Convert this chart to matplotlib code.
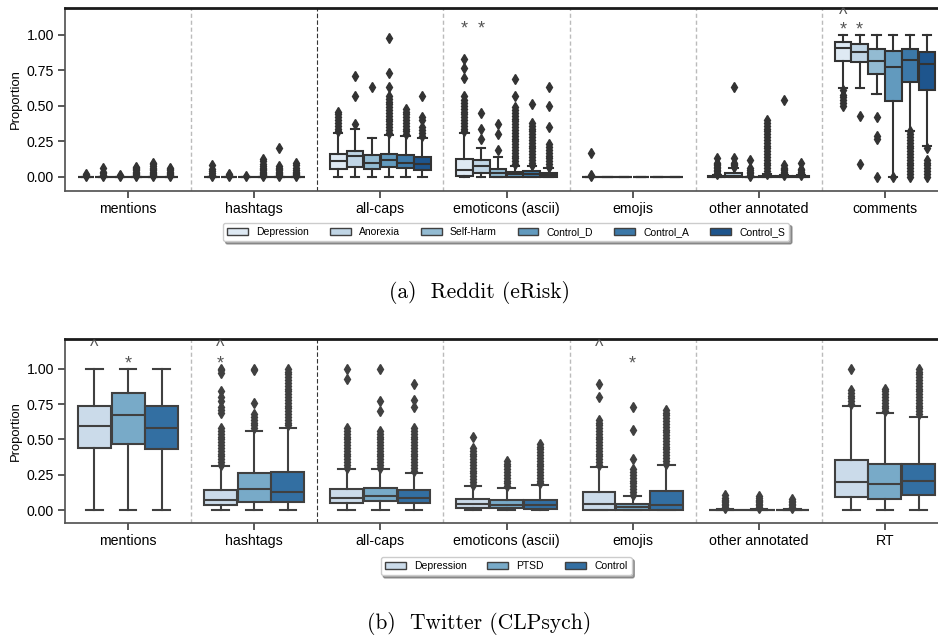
import colorsys
import matplotlib
matplotlib.use("Agg")
import matplotlib.pyplot as plt
from matplotlib.colors import to_rgb
from matplotlib.patches import Patch
import numpy as np

plt.rcParams['font.family'] = ['Liberation Sans', 'DejaVu Sans']

# --- Reddit (eRisk) ---------------------------------------------------------
r_features = ["mentions", "hashtags", "all-caps", "emoticons (ascii)", "emojis",
              "other annotated", "comments"]
r_groups = ["Depression", "Anorexia", "Self-Harm", "Control_D", "Control_A", "Control_S"]

# (whislo, q1, med, q3, whishi) por grupo
r_mentions = [(0, 0, 0, 0, 0)] * 6
r_mentions_out = [
    [0.005, 0.012, 0.02],
    [0.005, 0.015, 0.025, 0.035, 0.06],
    [0.004, 0.01],
    [0.005, 0.012, 0.02, 0.028, 0.036, 0.045, 0.055, 0.065, 0.072],
    [0.005, 0.012, 0.02, 0.028, 0.036, 0.045, 0.055, 0.065, 0.075, 0.09, 0.1],
    [0.005, 0.012, 0.02, 0.028, 0.036, 0.045, 0.055, 0.062],
]
r_hashtags = [(0, 0, 0, 0, 0)] * 6
r_hashtags_out = [
    [0.005, 0.015, 0.025, 0.04, 0.055, 0.085],
    [0.005, 0.012, 0.02],
    [0.004],
    [0.005, 0.012, 0.02, 0.028, 0.036, 0.045, 0.055, 0.065, 0.075, 0.09, 0.11, 0.125],
    [0.005, 0.012, 0.02, 0.028, 0.036, 0.045, 0.055, 0.065, 0.075, 0.2],
    [0.005, 0.012, 0.02, 0.028, 0.036, 0.045, 0.06, 0.08, 0.1],
]
r_allcaps = [(0.0, 0.058, 0.115, 0.162, 0.308), (0.0, 0.068, 0.146, 0.185, 0.336),
             (0.0, 0.054, 0.094, 0.153, 0.277), (0.0, 0.066, 0.117, 0.164, 0.296),
             (0.0, 0.061, 0.096, 0.153, 0.289), (0.0, 0.045, 0.087, 0.141, 0.275)]
r_allcaps_out = [
    [0.32, 0.34, 0.36, 0.38, 0.40, 0.42, 0.44, 0.46],
    [0.37, 0.57, 0.71],
    [0.63],
    [0.31, 0.33, 0.35, 0.37, 0.39, 0.41, 0.43, 0.45, 0.47, 0.49, 0.51, 0.53, 0.55, 0.57,
     0.63, 0.73, 0.98],
    [0.30, 0.32, 0.34, 0.36, 0.38, 0.40, 0.42, 0.44, 0.46, 0.48],
    [0.29, 0.31, 0.33, 0.35, 0.40, 0.42, 0.57],
]
r_emoticons = [(0.0, 0.007, 0.045, 0.129, 0.308), (0.0, 0.028, 0.075, 0.122, 0.2),
               (0.0, 0.0, 0.026, 0.058, 0.14), (0.0, 0.002, 0.017, 0.033, 0.078),
               (0.0, 0.0, 0.02, 0.04, 0.073), (0.0, 0.0, 0.015, 0.028, 0.06)]
r_emoticons_out = [
    [0.32, 0.34, 0.36, 0.38, 0.40, 0.42, 0.44, 0.46, 0.48, 0.50, 0.52, 0.54, 0.57,
     0.70, 0.77, 0.83],
    [0.27, 0.34, 0.45],
    [0.19, 0.30, 0.37],
    [0.09, 0.11, 0.13, 0.15, 0.17, 0.19, 0.21, 0.23, 0.25, 0.27, 0.29, 0.31, 0.33, 0.35,
     0.37, 0.39, 0.41, 0.43, 0.45, 0.47, 0.49, 0.57, 0.69],
    [0.08, 0.10, 0.12, 0.14, 0.16, 0.18, 0.20, 0.22, 0.24, 0.26, 0.28, 0.30, 0.32, 0.34,
     0.36, 0.38, 0.51],
    [0.07, 0.09, 0.11, 0.13, 0.15, 0.17, 0.19, 0.21, 0.23, 0.35, 0.50, 0.63],
]
r_emojis = [(0, 0, 0, 0, 0)] * 6
r_emojis_out = [[0.004, 0.01, 0.17], [], [], [], [], []]
r_other = [(0, 0, 0, 0.006, 0.012), (0, 0, 0.004, 0.03, 0.06), (0, 0, 0, 0, 0),
           (0, 0, 0, 0.008, 0.018), (0, 0, 0, 0.005, 0.01), (0, 0, 0, 0.006, 0.012)]
r_other_out = [
    [0.02, 0.03, 0.04, 0.05, 0.06, 0.07, 0.08, 0.09, 0.10, 0.135],
    [0.07, 0.08, 0.09, 0.10, 0.13, 0.63],
    [0.005, 0.015, 0.025, 0.035, 0.045, 0.06, 0.12],
    [0.02, 0.04, 0.06, 0.08, 0.10, 0.12, 0.14, 0.16, 0.18, 0.20, 0.22, 0.24, 0.26, 0.28,
     0.30, 0.32, 0.34, 0.36, 0.38, 0.40],
    [0.015, 0.025, 0.035, 0.045, 0.055, 0.065, 0.08, 0.54],
    [0.015, 0.025, 0.035, 0.045, 0.055, 0.10],
]
r_comments = [(0.629, 0.817, 0.906, 0.953, 1.0), (0.629, 0.81, 0.883, 0.934, 1.0),
              (0.582, 0.725, 0.817, 0.899, 1.0), (0.0, 0.537, 0.772, 0.887, 1.0),
              (0.324, 0.669, 0.822, 0.899, 1.0), (0.22, 0.61, 0.794, 0.88, 1.0)]
r_comments_out = [
    [0.50, 0.52, 0.54, 0.56, 0.58, 0.61],
    [0.43, 0.09],
    [0.42, 0.29, 0.27, 0.0],
    [0.0],
    [0.0, 0.02, 0.04, 0.06, 0.08, 0.10, 0.12, 0.14, 0.16, 0.18, 0.20, 0.22, 0.24, 0.26,
     0.28, 0.30, 0.32],
    [0.0, 0.02, 0.04, 0.06, 0.08, 0.10, 0.12, 0.20],
]
# (feature, grupo, símbolo, altura del centro del signo)
r_marks = [(3, 0, "*", 1.08), (3, 1, "*", 1.08), (6, 0, "^", 1.16),
           (6, 0, "*", 1.075), (6, 1, "*", 1.075)]

# --- Twitter (CLPsych) ------------------------------------------------------
t_features = ["mentions", "hashtags", "all-caps", "emoticons (ascii)", "emojis",
              "other annotated", "RT"]
t_groups = ["Depression", "PTSD", "Control"]

t_mentions = [(0.0, 0.442, 0.596, 0.738, 1.0), (0.0, 0.466, 0.676, 0.827, 1.0),
              (0.0, 0.435, 0.584, 0.735, 1.0)]
t_mentions_out = [[], [], []]
t_hashtags = [(0.0, 0.035, 0.073, 0.142, 0.31), (0.0, 0.055, 0.147, 0.26, 0.562),
              (0.0, 0.059, 0.13, 0.27, 0.584)]
t_hashtags_out = [
    [0.32, 0.34, 0.36, 0.38, 0.40, 0.42, 0.44, 0.46, 0.48, 0.50, 0.52, 0.54, 0.56, 0.58,
     0.69, 0.71, 0.73, 0.77, 0.80, 0.84, 0.97, 0.99, 1.0],
    [0.58, 0.60, 0.62, 0.64, 0.66, 0.68, 0.76, 0.99, 1.0],
    [0.60, 0.62, 0.64, 0.66, 0.68, 0.70, 0.72, 0.74, 0.76, 0.78, 0.80, 0.82, 0.84, 0.86,
     0.88, 0.90, 0.92, 0.94, 0.96, 0.98, 1.0],
]
t_allcaps = [(0.0, 0.052, 0.087, 0.147, 0.288), (0.0, 0.066, 0.101, 0.156, 0.288),
             (0.0, 0.052, 0.087, 0.14, 0.265)]
t_allcaps_out = [
    [0.30, 0.32, 0.34, 0.36, 0.38, 0.40, 0.42, 0.44, 0.46, 0.48, 0.50, 0.52, 0.54, 0.56,
     0.58, 0.93, 1.0],
    [0.30, 0.32, 0.34, 0.36, 0.38, 0.40, 0.42, 0.44, 0.46, 0.48, 0.50, 0.52, 0.54, 0.56,
     0.70, 0.77, 1.0],
    [0.28, 0.30, 0.32, 0.34, 0.36, 0.38, 0.40, 0.42, 0.44, 0.46, 0.48, 0.50, 0.52, 0.54,
     0.56, 0.58, 0.73, 0.78, 0.89],
]
t_emoticons = [(0.0, 0.019, 0.043, 0.08, 0.17), (0.0, 0.014, 0.038, 0.069, 0.154),
               (0.0, 0.01, 0.038, 0.076, 0.177)]
t_emoticons_out = [
    [0.18, 0.20, 0.22, 0.24, 0.26, 0.28, 0.30, 0.32, 0.34, 0.36, 0.38, 0.40, 0.42, 0.44,
     0.52],
    [0.17, 0.19, 0.21, 0.23, 0.25, 0.27, 0.29, 0.31, 0.33, 0.35],
    [0.19, 0.21, 0.23, 0.25, 0.27, 0.29, 0.31, 0.33, 0.35, 0.37, 0.39, 0.41, 0.43, 0.45,
     0.47],
]
t_emojis = [(0.0, 0.005, 0.047, 0.13, 0.307), (0.0, 0.005, 0.02, 0.043, 0.101),
            (0.0, 0.005, 0.035, 0.135, 0.321)]
t_emojis_out = [
    [0.32, 0.34, 0.36, 0.38, 0.40, 0.42, 0.44, 0.46, 0.48, 0.50, 0.52, 0.54, 0.56, 0.58,
     0.60, 0.62, 0.64, 0.80, 0.89],
    [0.11, 0.13, 0.15, 0.17, 0.19, 0.21, 0.23, 0.25, 0.27, 0.29, 0.36, 0.57, 0.73],
    [0.33, 0.35, 0.37, 0.39, 0.41, 0.43, 0.45, 0.47, 0.49, 0.51, 0.53, 0.55, 0.57, 0.59,
     0.61, 0.63, 0.65, 0.67, 0.69, 0.71],
]
t_other = [(0, 0, 0, 0.004, 0.008)] * 3
t_other_out = [
    [0.015, 0.025, 0.035, 0.045, 0.055, 0.065, 0.075, 0.09, 0.11],
    [0.015, 0.025, 0.035, 0.045, 0.055, 0.065, 0.075, 0.085, 0.10],
    [0.015, 0.025, 0.035, 0.045, 0.055, 0.065, 0.08],
]
t_rt = [(0.0, 0.095, 0.2, 0.355, 0.738), (0.0, 0.083, 0.184, 0.324, 0.688),
        (0.0, 0.106, 0.208, 0.328, 0.662)]
t_rt_out = [
    [0.75, 0.77, 0.79, 0.81, 0.83, 0.85, 1.0],
    [0.70, 0.72, 0.74, 0.76, 0.78, 0.80, 0.82, 0.84, 0.86],
    [0.68, 0.70, 0.72, 0.74, 0.76, 0.78, 0.80, 0.82, 0.84, 0.86, 0.88, 0.90, 0.92, 0.94,
     0.96, 0.98, 1.0],
]
t_marks = [(0, 0, "^", 1.168), (0, 1, "*", 1.074), (1, 0, "^", 1.168),
           (1, 0, "*", 1.074), (4, 0, "^", 1.168), (4, 1, "*", 1.074)]


def blues(n, sat=0.75):
    """Paleta Blues como la de seaborn, desaturada."""
    cmap = plt.get_cmap('Blues')
    cols = []
    for v in np.linspace(0, 1, n + 2)[1:-1]:
        h, l, s = colorsys.rgb_to_hls(*to_rgb(cmap(v)))
        cols.append(colorsys.hls_to_rgb(h, l, s * sat))
    return cols


def draw_panel(ax, features, groups, stats, fliers, marks, gray, ylim):
    n = len(groups)
    cols = blues(n)
    w = 0.8 / n
    line = dict(color=gray, linewidth=1.5)
    for i, (st, fl) in enumerate(zip(stats, fliers)):
        for j in range(n):
            lo, q1, med, q3, hi = st[j]
            d = dict(whislo=lo, q1=q1, med=med, q3=q3, whishi=hi, fliers=fl[j])
            pos = i - 0.4 + w * (j + 0.5)
            ax.bxp([d], positions=[pos], widths=[w * 0.98], patch_artist=True,
                   manage_ticks=False,
                   boxprops=dict(facecolor=cols[j], edgecolor=gray, linewidth=1.5),
                   medianprops=line, whiskerprops=line, capprops=line,
                   flierprops=dict(marker='d', markersize=5, markerfacecolor=gray,
                                   markeredgecolor=gray, linestyle='none'))
    for x in np.arange(0.5, len(features) - 0.5):
        if x == 1.5:
            ax.axvline(x, color='#333333', lw=0.8, ls=(0, (4, 2)), zorder=0)
        else:
            ax.axvline(x, color='#bbbbbb', lw=1.0, ls=(0, (3, 2)), zorder=0)
    # signos colocados por la línea base (centro del glifo - desplazamiento)
    px = (ylim[1] - ylim[0]) / ax.bbox.height
    for fi, gj, s, y in marks:
        pos = fi - 0.4 + w * (gj + 0.5)
        off = 10.0 if s == "*" else 7.5
        ax.text(pos, y - off * px, s, ha='center', va='baseline', fontsize=13,
                color='#555555')
    ax.set_xlim(-0.5, len(features) - 0.5)
    ax.set_ylim(*ylim)
    ax.set_xticks(range(len(features)))
    ax.set_xticklabels(features, fontsize=10.2)
    ax.set_yticks([0, 0.25, 0.5, 0.75, 1.0])
    ax.set_yticklabels(["0.00", "0.25", "0.50", "0.75", "1.00"], fontsize=10.2)
    ax.set_ylabel("Proportion", fontsize=9.4)
    ax.yaxis.set_label_coords(-0.049, 0.5)
    ax.tick_params(length=5, width=1.25, color='#444444', pad=3)
    for side in ['left', 'bottom', 'right']:
        ax.spines[side].set_color('#555555')
        ax.spines[side].set_linewidth(1.25)
    ax.spines['top'].set_color('#1a1a1a')
    ax.spines['top'].set_linewidth(2.0)
    return cols


fig = plt.figure(figsize=(9.38, 6.37), dpi=100)
W, H = 938, 637

ax1 = fig.add_axes([65 / W, 1 - 191 / H, 883 / W, 183 / H])
r_stats = [r_mentions, r_hashtags, r_allcaps, r_emoticons, r_emojis, r_other, r_comments]
r_out = [r_mentions_out, r_hashtags_out, r_allcaps_out, r_emoticons_out, r_emojis_out,
         r_other_out, r_comments_out]
cols1 = draw_panel(ax1, r_features, r_groups, r_stats, r_out, r_marks, '#333333', (-0.1, 1.19))

ax2 = fig.add_axes([65 / W, 1 - 523 / H, 883 / W, 184 / H])
t_stats = [t_mentions, t_hashtags, t_allcaps, t_emoticons, t_emojis, t_other, t_rt]
t_out = [t_mentions_out, t_hashtags_out, t_allcaps_out, t_emoticons_out, t_emojis_out,
         t_other_out, t_rt_out]
cols2 = draw_panel(ax2, t_features, t_groups, t_stats, t_out, t_marks, '#404040', (-0.09, 1.21))

for cols, groups, yc in [(cols1, r_groups, 232), (cols2, t_groups, 566)]:
    handles = [Patch(facecolor=c, edgecolor='#404040', linewidth=1.0) for c in cols]
    leg = fig.legend(handles, groups, loc='center', bbox_to_anchor=(506 / W, 1 - yc / H),
                     ncol=len(groups), fontsize=7.5, frameon=True, fancybox=True,
                     shadow=True, borderpad=0.4)
    leg.get_frame().set_edgecolor('#cccccc')

fig.text(479 / W, 1 - 298 / H, "(a)  Reddit (eRisk)", ha='center', va='baseline',
         fontsize=15.5, family='cmr10')
fig.text(479 / W, 1 - 629 / H, "(b)  Twitter (CLPsych)", ha='center', va='baseline',
         fontsize=15.5, family='cmr10')

fig.savefig("out.png", dpi=100)
